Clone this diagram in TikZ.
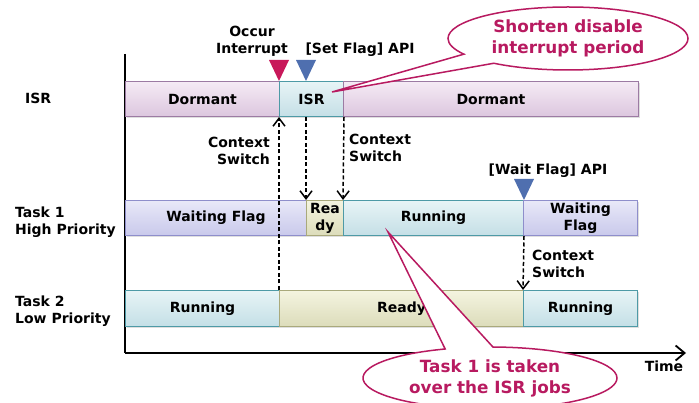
\documentclass[tikz,border=0pt]{standalone}
\usepackage{fontspec}
\setmainfont{DejaVu Sans}
\usetikzlibrary{arrows.meta,shapes.callouts,shadows}
\definecolor{calloutpink}{HTML}{B81A60}
\definecolor{irqred}{HTML}{C8185A}
\definecolor{apiblue}{HTML}{4F6FAF}
\definecolor{dormT}{HTML}{F5EBF5}
\definecolor{dormBot}{HTML}{DCC6DE}
\definecolor{dormB}{HTML}{9C7BA3}
\definecolor{runT}{HTML}{E8F4F6}
\definecolor{runBot}{HTML}{C4DFE6}
\definecolor{runB}{HTML}{4E9AA6}
\definecolor{waitT}{HTML}{E8E8F8}
\definecolor{waitBot}{HTML}{C9C9EB}
\definecolor{waitB}{HTML}{8E8ECB}
\definecolor{readyT}{HTML}{F4F4E0}
\definecolor{readyBot}{HTML}{DCDCBA}
\definecolor{readyB}{HTML}{A9A97C}
\begin{document}
\begin{tikzpicture}[x=1pt,y=-1pt,
  font=\bfseries\fontsize{14}{17}\selectfont,
  phase/.style={draw, line width=1pt, minimum height=35pt, inner sep=0pt,
    anchor=north west, align=center,
    drop shadow={opacity=0.25,shadow xshift=1.2pt,shadow yshift=-1.2pt}},
  dormant/.style={phase, draw=dormB, top color=dormT, bottom color=dormBot},
  running/.style={phase, draw=runB, top color=runT, bottom color=runBot},
  waiting/.style={phase, draw=waitB, top color=waitT, bottom color=waitBot},
  readyst/.style={phase, draw=readyB, top color=readyT, bottom color=readyBot},
  lbl/.style={inner sep=0pt},
  csarrow/.style={line width=1.5pt, dash pattern=on 4pt off 2.5pt,
    -{Straight Barb[length=8pt,width=12pt,line width=1.5pt]}},
  axisline/.style={line width=1.6pt,
    -{Straight Barb[length=9pt,width=15pt,line width=1.8pt]}},
  callout/.style={ellipse callout, draw=calloutpink, line width=1.5pt, fill=white,
    text=calloutpink, align=center, inner sep=0pt, callout pointer arc=22,
    font=\bfseries\fontsize{16.8}{21}\selectfont}
]
\useasboundingbox (0,0) rectangle (699,403);

% axes
\coordinate (ytop) at (125,54);
\coordinate (origin) at (125,353);
\coordinate (xend) at (686,353);
\draw[line width=1.6pt] (ytop) -- (origin);
\draw[axisline] (origin) -- (xend);
\node[lbl] (time) at (664,366) {Time};

% row labels
\node[lbl, anchor=west] (lisr) at (25,98) {ISR};
\node[lbl, anchor=west, align=left] (lt1) at (15,222) {Task 1\\High Priority};
\node[lbl, anchor=west, align=left] (lt2) at (15,311) {Task 2\\Low Priority};

% ISR row
\node[dormant, minimum width=154pt] (isrD1) at (125,81) {Dormant};
\node[running, minimum width=64pt] (isrRun) at (279,81) {ISR};
\node[dormant, minimum width=295pt] (isrD2) at (343,81) {Dormant};

% Task 1 row
\node[waiting, minimum width=181pt] (t1Wait) at (125,200) {Waiting Flag};
\node[readyst, minimum width=37pt] (t1Ready) at (306,200) {Rea\\dy};
\node[running, minimum width=180pt] (t1Run) at (343,200) {Running};
\node[waiting, minimum width=114pt] (t1Wait2) at (523,200) {Waiting\\Flag};

% Task 2 row
\node[running, minimum width=154pt, minimum height=36pt] (t2Run) at (125,290) {Running};
\node[readyst, minimum width=244pt, minimum height=36pt] (t2Ready) at (279,290) {Ready};
\node[running, minimum width=114pt, minimum height=36pt] (t2Run2) at (523,290) {Running};

% event markers
\fill[irqred] (isrRun.north west) -- ++(-10,-21) -- ++(20,0) -- cycle;
\fill[apiblue] (t1Ready.north west |- isrRun.north) -- ++(-10,-21) -- ++(20,0) -- cycle;
\fill[apiblue] (t1Run.north east) -- ++(-10,-21) -- ++(20,0) -- cycle;

\node[lbl, align=center] (occur) at (252,41.5) {Occur\\Interrupt};
\node[lbl] (setflag) at (360,50) {[Set Flag] API};
\node[lbl] (waitflag) at (548,171) {[Wait Flag] API};

% context switches
\draw[csarrow] (t2Ready.north west) -- (isrRun.south west);
\draw[csarrow] (t1Ready.north west |- isrRun.south) -- (t1Ready.north west);
\draw[csarrow] (isrRun.south east) -- (t1Run.north west);
\draw[csarrow] (t1Run.south east) -- (t2Run2.north west);

\node[lbl, anchor=east, align=right] (cs1) at (270,151) {Context\\Switch};
\node[lbl, anchor=west, align=left] (cs2) at (349,148) {Context\\Switch};
\node[lbl, anchor=west, align=left] (cs3) at (532,264) {Context\\Switch};

% callouts
\coordinate (isrPt) at (332,92);
\coordinate (runPt) at (388,232);
\node[callout, minimum width=240pt, minimum height=63pt,
  callout absolute pointer=(isrPt)] (c1) at (568,38.5) {Shorten disable\\interrupt period};
\node[callout, minimum width=254pt, minimum height=62pt,
  callout absolute pointer=(runPt)] (c2) at (490,378) {Task 1 is taken\\over the ISR jobs};
\end{tikzpicture}
\end{document}
